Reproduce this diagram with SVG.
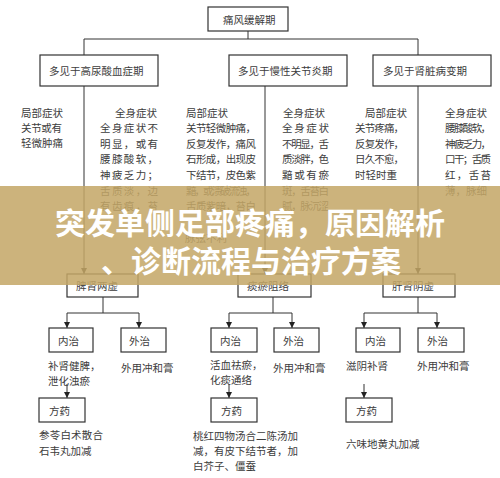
<svg xmlns="http://www.w3.org/2000/svg" width="500" height="478" viewBox="0 0 500 478">
<defs>
<style>
text{font-family:"Noto Sans CJK SC","Noto Sans",sans-serif;font-size:10.5px;fill:#3c3c3c;dominant-baseline:central}
.box{fill:#fff;stroke:#333;stroke-width:1.2}
.ln{fill:none;stroke:#333;stroke-width:1}
.title{font-size:30px;font-weight:bold;fill:#fff;text-anchor:middle}
</style>
<marker id="ah" markerUnits="userSpaceOnUse" markerWidth="6" markerHeight="6" refX="6" refY="3" orient="auto">
<path d="M0,0 L6,3 L0,6 z" fill="#222"/>
</marker>
</defs>
<rect width="500" height="478" fill="#fff"/>

<g id="connectors">
<path class="ln" d="M248,31 V39 M84,39 H418 M84,39 V55 M418,39 V55"/>
<path class="ln" d="M84,86 V274" marker-end="url(#ah)"/>
<path class="ln" d="M265,86 V274" marker-end="url(#ah)"/>
<path class="ln" d="M418,86 V274" marker-end="url(#ah)"/>
<path class="ln" d="M103,297 V313 M67,313 H139"/>
<path class="ln" d="M67,313 V328" marker-end="url(#ah)"/>
<path class="ln" d="M139,313 V328" marker-end="url(#ah)"/>
<path class="ln" d="M67,384 V398" marker-end="url(#ah)"/>
<path class="ln" d="M273,297 V313 M229,313 H292"/>
<path class="ln" d="M229,313 V328" marker-end="url(#ah)"/>
<path class="ln" d="M292,313 V328" marker-end="url(#ah)"/>
<path class="ln" d="M229,384 V398" marker-end="url(#ah)"/>
<path class="ln" d="M418,297 V313 M364,313 H437"/>
<path class="ln" d="M364,313 V328" marker-end="url(#ah)"/>
<path class="ln" d="M437,313 V328" marker-end="url(#ah)"/>
<path class="ln" d="M364,384 V398" marker-end="url(#ah)"/>
</g>

<g id="n-top"><rect class="box" x="208" y="7" width="80" height="24"/><text x="223" y="19">痛风缓解期</text></g>
<g id="n-gao"><rect class="box" x="40" y="55" width="118" height="31"/><text x="49" y="70.5">多见于高尿酸血症期</text></g>
<g id="n-man"><rect class="box" x="229" y="55" width="118" height="31"/><text x="238" y="70.5">多见于慢性关节炎期</text></g>
<g id="n-shen"><rect class="box" x="373" y="55" width="118" height="31"/><text x="383" y="70.5">多见于肾脏病变期</text></g>

<g id="t-left-local">
<text x="21" y="112">局部症状</text>
<text x="21" y="127" textLength="41">关节或有</text>
<text x="21" y="142">轻微肿痛</text>
</g>
<g id="t-left-body">
<text x="115" y="112">全身症状</text>
<text x="100" y="127" textLength="58">全身症状不</text>
<text x="100" y="143" textLength="58">明显，或有</text>
<text x="100" y="158" textLength="58">腰膝酸软，</text>
<text x="100" y="174" textLength="58">神疲乏力；</text>
<text x="100" y="190" textLength="58">舌质淡，边</text>
<text x="100" y="205" textLength="58">有齿痕，苔</text>
</g>
<g id="t-mid-local">
<text x="186" y="112">局部症状</text>
<text x="186" y="127" textLength="70">关节轻微肿痛，</text>
<text x="186" y="143" textLength="70">反复发作，痛风</text>
<text x="186" y="158" textLength="70">石形成，出现皮</text>
<text x="186" y="174" textLength="70">下结节，皮色紫</text>
<text x="186" y="190" textLength="70">黯，或溃破流浊，</text>
<text x="186" y="205" textLength="70">舌质紫暗，苔白</text>
<text x="185" y="237">脉弦不利</text>
</g>
<g id="t-mid-body">
<text x="283" y="112">全身症状</text>
<text x="282" y="127" textLength="47">全身症状</text>
<text x="282" y="143" textLength="47">不明显，舌</text>
<text x="282" y="158" textLength="47">质淡胖，色</text>
<text x="282" y="174" textLength="47">黯或有瘀</text>
<text x="282" y="190" textLength="47">斑，舌苔白</text>
<text x="282" y="205" textLength="47">腻，脉沉涩</text>
</g>
<g id="t-right-local">
<text x="365" y="112">局部症状</text>
<text x="355" y="127" textLength="49">关节疼痛，</text>
<text x="355" y="143" textLength="49">反复发作，</text>
<text x="355" y="158" textLength="49">日久不愈，</text>
<text x="355" y="174">时轻时重</text>
</g>
<g id="t-right-body">
<text x="445" y="112">全身症状</text>
<text x="445" y="127" textLength="46">腰膝酸软，</text>
<text x="445" y="143" textLength="46">神疲乏力，</text>
<text x="445" y="158" textLength="46">口干；舌质</text>
<text x="445" y="174" textLength="46">红，舌苔</text>
<text x="445" y="190">薄，脉细</text>
</g>

<g id="n-pishen"><rect class="box" x="67" y="274" width="71" height="23"/><text x="76" y="285.5">脾肾两虚</text></g>
<g id="n-tanyu"><rect class="box" x="238" y="274" width="73" height="23"/><text x="247" y="285.5">痰瘀阻络</text></g>
<g id="n-ganshen"><rect class="box" x="383" y="274" width="72" height="23"/><text x="392" y="285.5">肝肾阴虚</text></g>

<g id="n-l-nei"><rect class="box" x="49" y="328" width="44" height="24"/><text x="58" y="340">内治</text></g>
<g id="n-l-wai"><rect class="box" x="121" y="328" width="45" height="24"/><text x="129" y="340">外治</text></g>
<g id="n-m-nei"><rect class="box" x="211" y="328" width="46" height="24"/><text x="220" y="340">内治</text></g>
<g id="n-m-wai"><rect class="box" x="274" y="328" width="45" height="24"/><text x="283" y="340">外治</text></g>
<g id="n-r-nei"><rect class="box" x="356" y="328" width="44" height="24"/><text x="365" y="340">内治</text></g>
<g id="n-r-wai"><rect class="box" x="418" y="328" width="46" height="24"/><text x="427" y="340">外治</text></g>

<g id="t-l-tx">
<text x="48" y="365">补肾健脾，</text>
<text x="48" y="380">泄化浊瘀</text>
<text x="121" y="367">外用冲和膏</text>
</g>
<g id="t-m-tx">
<text x="210" y="364">活血祛瘀，</text>
<text x="210" y="379">化痰通络</text>
<text x="273" y="367">外用冲和膏</text>
</g>
<g id="t-r-tx">
<text x="346" y="365">滋阴补肾</text>
<text x="417" y="365">外用冲和膏</text>
</g>

<g id="n-l-fang"><rect class="box" x="39" y="398" width="46" height="24"/><text x="49" y="410">方药</text></g>
<g id="n-m-fang"><rect class="box" x="211" y="398" width="46" height="24"/><text x="221" y="410">方药</text></g>
<g id="n-r-fang"><rect class="box" x="346" y="398" width="46" height="24"/><text x="356" y="410">方药</text></g>

<g id="t-fang">
<text x="39" y="434" textLength="64">参苓白术散合</text>
<text x="39" y="450">石韦丸加减</text>
<text x="193" y="435" textLength="105">桃红四物汤合二陈汤加</text>
<text x="193" y="450" textLength="105">减，有皮下结节者，加</text>
<text x="193" y="465">白芥子、僵蚕</text>
<text x="346" y="443">六味地黄丸加减</text>
</g>

<g id="banner">
<rect x="0" y="186" width="500" height="99" fill="#c4a766" fill-opacity="0.86"/>
<text class="title" x="250" y="221">突发单侧足部疼痛，原因解析</text>
<text class="title" x="251" y="259">、诊断流程与治疗方案</text>
</g>
</svg>
